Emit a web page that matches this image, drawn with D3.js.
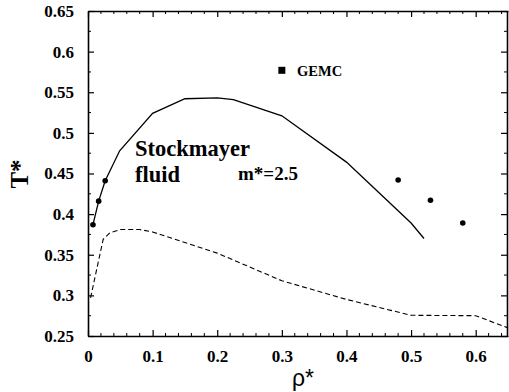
<!DOCTYPE html>
<html>
<head>
<meta charset="utf-8">
<script src="https://cdn.jsdelivr.net/npm/d3@7"></script>
<style>
  body { margin: 0; background: #fff; }
  svg { display: block; }
</style>
</head>
<body>
<div id="chart"></div>
<script>
// Data
const coexRho = [0.0077, 0.0165, 0.0266, 0.049, 0.1, 0.15, 0.2, 0.225, 0.3, 0.4, 0.5, 0.52];
const coexT   = [0.387, 0.416, 0.441, 0.478, 0.524, 0.542, 0.543, 0.541, 0.521, 0.464, 0.389, 0.37];

const dotRho = [0.0077, 0.0165, 0.0266, 0.48, 0.53, 0.58];
const dotT   = [0.387, 0.416, 0.441, 0.442, 0.417, 0.389];

const dashRho = [0.004, 0.011, 0.0235, 0.034, 0.05, 0.08, 0.1, 0.2, 0.3, 0.4, 0.5, 0.6, 0.65];
const dashT   = [0.297, 0.323, 0.369, 0.377, 0.381, 0.381, 0.378, 0.352, 0.318, 0.295, 0.2755, 0.275, 0.26];

const xTicks = [0, 0.1, 0.2, 0.3, 0.4, 0.5, 0.6];
const yTicks = [0.25, 0.3, 0.35, 0.4, 0.45, 0.5, 0.55, 0.6, 0.65];

const width = 509, height = 392;
const margin = { top: 11, right: 1, bottom: 56, left: 88 };

const svg = d3.select("#chart")
  .append("svg")
  .attr("width", width)
  .attr("height", height);

const x = d3.scaleLinear().domain([0, 0.65]).range([margin.left, width - margin.right]);
const y = d3.scaleLinear().domain([0.25, 0.65]).range([height - margin.bottom, margin.top]);

const serif = "Liberation Serif";

// minor tick values
const xMinor = d3.range(0, 0.651, 0.02).filter(v => !xTicks.some(t => Math.abs(t - v) < 1e-6));
const yMinor = d3.range(0.25, 0.651, 0.025).filter(v => !yTicks.some(t => Math.abs(t - v) < 1e-6));

// Bottom axis
const gx = svg.append("g")
  .attr("transform", `translate(0,${y(0.25)})`)
  .call(d3.axisBottom(x).tickValues(xTicks).tickSizeInner(-6).tickSizeOuter(0)
    .tickPadding(14).tickFormat(d => d === 0 ? "0" : d3.format(".1f")(d)));
gx.append("g").selectAll("line").data(xMinor).join("line")
  .attr("x1", d => x(d)).attr("x2", d => x(d)).attr("y1", 0).attr("y2", -3)
  .attr("stroke", "#000");

// Top axis (ticks only)
const gt = svg.append("g")
  .attr("transform", `translate(0,${y(0.65)})`)
  .call(d3.axisTop(x).tickValues(xTicks).tickSizeInner(-6).tickSizeOuter(0).tickFormat(""));
gt.append("g").selectAll("line").data(xMinor).join("line")
  .attr("x1", d => x(d)).attr("x2", d => x(d)).attr("y1", 0).attr("y2", 3)
  .attr("stroke", "#000");

// Left axis
const gy = svg.append("g")
  .attr("transform", `translate(${x(0)},0)`)
  .call(d3.axisLeft(y).tickValues(yTicks).tickSizeInner(-6).tickSizeOuter(0)
    .tickPadding(14).tickFormat(d => String(+d.toFixed(2))));
gy.append("g").selectAll("line").data(yMinor).join("line")
  .attr("y1", d => y(d)).attr("y2", d => y(d)).attr("x1", 0).attr("x2", 3)
  .attr("stroke", "#000");

// Right axis (ticks only)
const gr = svg.append("g")
  .attr("transform", `translate(${width - margin.right - 1},0)`)
  .call(d3.axisRight(y).tickValues(yTicks).tickSizeInner(-6).tickSizeOuter(0).tickFormat(""));
gr.append("g").selectAll("line").data(yMinor).join("line")
  .attr("y1", d => y(d)).attr("y2", d => y(d)).attr("x1", 0).attr("x2", -3)
  .attr("stroke", "#000");

[gx, gy].forEach(g => g
  .attr("font-family", serif)
  .attr("font-weight", "bold")
  .attr("font-size", 17));

svg.selectAll(".domain").attr("stroke", "#000").attr("stroke-width", 1.6);
svg.selectAll(".tick line").attr("stroke", "#000").attr("stroke-width", 1.2);
svg.selectAll(".tick text").attr("fill", "#000");

// Lines
const line = d3.line().x(d => x(d[0])).y(d => y(d[1]));

svg.append("path")
  .datum(d3.zip(coexRho, coexT))
  .attr("fill", "none")
  .attr("stroke", "#000")
  .attr("stroke-width", 1.3)
  .attr("d", line);

svg.append("path")
  .datum(d3.zip(dashRho, dashT))
  .attr("fill", "none")
  .attr("stroke", "#000")
  .attr("stroke-width", 1.1)
  .attr("stroke-dasharray", "5,3")
  .attr("d", line);

svg.append("g").selectAll("circle")
  .data(d3.zip(dotRho, dotT))
  .join("circle")
  .attr("cx", d => x(d[0]))
  .attr("cy", d => y(d[1]))
  .attr("r", 2.8)
  .attr("fill", "#000");

// GEMC legend
svg.append("rect")
  .attr("x", x(0.3) - 3.5).attr("y", y(0.577) - 3.5)
  .attr("width", 7).attr("height", 7)
  .attr("fill", "#000");
svg.append("text")
  .attr("x", 297).attr("y", 76)
  .attr("font-family", serif).attr("font-weight", "bold").attr("font-size", 14.5)
  .text("GEMC");

// Annotations
svg.append("text").attr("x", 135).attr("y", 156).text("Stockmayer")
  .attr("font-family", serif).attr("font-weight", "bold").attr("font-size", 22.5);
svg.append("text").attr("x", 135).attr("y", 181.5).text("fluid")
  .attr("font-family", serif).attr("font-weight", "bold").attr("font-size", 22.5);
svg.append("text").attr("x", 238).attr("y", 180).text("m*=2.5")
  .attr("font-family", serif).attr("font-weight", "bold").attr("font-size", 19);

// Axis titles
svg.append("text")
  .attr("transform", `translate(28,174) rotate(-90)`)
  .attr("text-anchor", "middle")
  .attr("font-family", serif).attr("font-weight", "bold").attr("font-size", 25)
  .text("T*");

svg.append("text")
  .attr("x", 303).attr("y", 386)
  .attr("text-anchor", "middle")
  .attr("font-family", "Liberation Sans").attr("font-size", 23)
  .text("ρ*");
</script>
</body>
</html>
